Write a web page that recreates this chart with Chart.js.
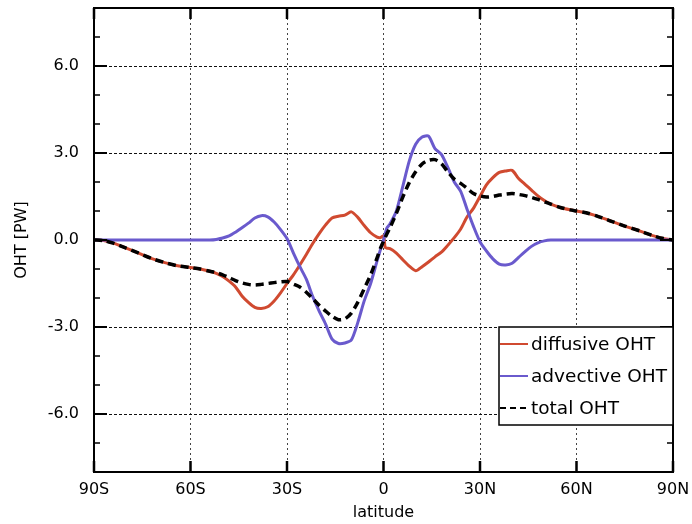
<!DOCTYPE html>
<html><head><meta charset="utf-8">
<script src="https://cdn.jsdelivr.net/npm/chart.js@4.4.1/dist/chart.umd.min.js"></script>
<style>html,body{margin:0;padding:0;background:#fff;}canvas{display:block;}</style>
</head><body>
<canvas id="c" width="692" height="524" style="width:692px;height:524px"></canvas>
<script>
const latitudes = [-90,-87,-84,-80,-76,-72,-68,-64,-60,-57,-54,
  -52,-50,-48,-46,-44,-42,-40,-38,-36,-34,-32,-30,-28,-26,-24,-22,-20,-18,-16,-14,-12,-10,-8,-6,-4,-2,
  -1,0,0.5,1,
  2,4,6,8,10,12,14,16,18,20,22,24,26,28,30,32,34,36,38,40,42,44,46,48,50,52,
  55,58,60,63,66,70,75,80,84,87,90];
const diffusiveOHT = [0,-0.02,-0.11,-0.28,-0.46,-0.64,-0.78,-0.89,-0.95,-1.0,-1.08,
  -1.15,-1.26,-1.42,-1.62,-1.93,-2.15,-2.32,-2.36,-2.3,-2.1,-1.82,-1.5,-1.2,-0.86,-0.5,-0.12,0.22,0.52,0.76,0.82,0.86,0.97,0.78,0.5,0.25,0.1,
  0.08,0.14,-0.25,-0.28,
  -0.3,-0.45,-0.68,-0.9,-1.06,-0.92,-0.76,-0.58,-0.42,-0.18,0.08,0.38,0.8,1.1,1.5,1.9,2.15,2.33,2.38,2.4,2.12,1.92,1.72,1.52,1.36,1.24,
  1.12,1.04,1.0,0.94,0.84,0.68,0.48,0.3,0.14,0.05,0];
const advectiveOHT = [0,0,0,0,0,0,0,0,0,0,0,
  0.02,0.07,0.14,0.27,0.42,0.58,0.76,0.84,0.8,0.62,0.36,0.05,-0.45,-0.92,-1.35,-1.95,-2.45,-2.9,-3.42,-3.57,-3.55,-3.45,-2.85,-2.1,-1.5,-0.72,
  -0.35,0,0.2,0.4,
  0.55,1.0,1.85,2.72,3.3,3.55,3.58,3.15,2.95,2.5,2.0,1.68,1.05,0.46,-0.06,-0.38,-0.65,-0.83,-0.86,-0.8,-0.6,-0.4,-0.22,-0.1,-0.03,0,
  0,0,0,0,0,0,0,0,0,0,0];
const totalOHT = [0,-0.02,-0.11,-0.28,-0.46,-0.64,-0.78,-0.89,-0.95,-1.0,-1.08,
  -1.13,-1.2,-1.3,-1.4,-1.48,-1.53,-1.55,-1.53,-1.5,-1.47,-1.44,-1.43,-1.52,-1.62,-1.8,-2.02,-2.25,-2.45,-2.63,-2.75,-2.72,-2.52,-2.15,-1.68,-1.2,-0.62,
  -0.3,-0.05,0.08,0.2,
  0.42,0.92,1.48,1.98,2.35,2.62,2.75,2.77,2.63,2.35,2.1,1.95,1.78,1.6,1.52,1.48,1.5,1.55,1.58,1.6,1.57,1.53,1.47,1.4,1.32,1.24,
  1.12,1.04,1.0,0.94,0.84,0.68,0.48,0.3,0.14,0.05,0];
const seriesNames = ['diffusive OHT','advective OHT','total OHT'];
const xTickValues = [-90,-60,-30,0,30,60,90];
const xTickLabels = ['90S','60S','30S','0','30N','60N','90N'];
const yTickValues = [-6,-3,0,3,6];
const yTickLabels = ['-6.0','-3.0','0.0','3.0','6.0'];
const yMinorValues = [-7,-5,-4,-2,-1,1,2,4,5,7];

const FONT = "'DejaVu Sans', sans-serif";
const toPts = arr => latitudes.map((x, i) => ({x: x, y: arr[i]}));
const noPad = s => { s.paddingTop = 0; s.paddingBottom = 0; s.paddingLeft = 0; s.paddingRight = 0; };

const framePlugin = {
  id: 'frame',
  afterDraw(chart) {
    const {ctx, chartArea: a, scales: {x, y}} = chart;
    ctx.save();
    ctx.setLineDash([]);
    ctx.strokeStyle = '#000';
    ctx.lineWidth = 2;
    ctx.beginPath();
    yTickValues.forEach(v => {
      const p = y.getPixelForValue(v);
      ctx.moveTo(a.left, p); ctx.lineTo(a.left + 13, p);
      ctx.moveTo(a.right, p); ctx.lineTo(a.right - 13, p);
    });
    ctx.stroke();
    ctx.lineWidth = 1.5;
    ctx.beginPath();
    yMinorValues.forEach(v => {
      const p = y.getPixelForValue(v);
      ctx.moveTo(a.left, p); ctx.lineTo(a.left + 6, p);
      ctx.moveTo(a.right, p); ctx.lineTo(a.right - 6, p);
    });
    ctx.stroke();
    ctx.lineWidth = 2.5;
    ctx.beginPath();
    xTickValues.forEach(v => {
      const p = x.getPixelForValue(v);
      ctx.moveTo(p, a.bottom); ctx.lineTo(p, a.bottom - 11);
      ctx.moveTo(p, a.top); ctx.lineTo(p, a.top + 11);
    });
    ctx.stroke();
    ctx.lineWidth = 2;
    ctx.strokeRect(a.left, a.top, a.right - a.left, a.bottom - a.top);

    // legend
    const bl = a.right - 174, bt = a.top + 319, bw = 174, bh = 98;
    ctx.fillStyle = '#fff';
    ctx.fillRect(bl, bt, bw, bh);
    ctx.lineWidth = 1.5;
    ctx.strokeStyle = '#000';
    ctx.strokeRect(bl, bt, bw, bh);
    ctx.font = "18.5px " + FONT;
    ctx.textBaseline = 'middle';
    ctx.textAlign = 'left';
    chart.data.datasets.forEach((ds, i) => {
      const ry = bt + 17 + i * 32;
      ctx.beginPath();
      ctx.strokeStyle = ds.borderColor;
      ctx.lineWidth = 2;
      ctx.setLineDash(ds.borderDash ? [6, 4] : []);
      ctx.moveTo(bl + 1, ry); ctx.lineTo(bl + 29, ry);
      ctx.stroke();
      ctx.setLineDash([]);
      ctx.fillStyle = '#000';
      ctx.fillText(ds.label, bl + 32, ry + 1);
    });
    ctx.restore();
  }
};

new Chart(document.getElementById('c'), {
  type: 'line',
  data: {
    datasets: [
      {label: seriesNames[0], data: toPts(diffusiveOHT), borderColor: '#d04a30', borderWidth: 3, pointRadius: 0, tension: 0.25, fill: false, order: 2},
      {label: seriesNames[1], data: toPts(advectiveOHT), borderColor: '#6a5acd', borderWidth: 3, pointRadius: 0, tension: 0.25, fill: false, order: 1},
      {label: seriesNames[2], data: toPts(totalOHT), borderColor: '#000000', borderWidth: 3.5, borderDash: [8, 5], pointRadius: 0, tension: 0.25, fill: false, order: 0}
    ]
  },
  options: {
    responsive: false,
    animation: false,
    devicePixelRatio: 1,
    layout: {padding: {top: 8, right: 19, left: 0, bottom: 0}},
    plugins: {legend: {display: false}, tooltip: {enabled: false}},
    scales: {
      x: {
        type: 'linear', min: -90, max: 90,
        afterBuildTicks: s => { s.ticks = xTickValues.map(v => ({value: v})); },
        afterFit: s => { s.height = 52; noPad(s); },
        ticks: {
          callback: v => xTickLabels[xTickValues.indexOf(v)],
          font: {family: FONT, size: 16}, color: '#000', padding: 8, maxRotation: 0, autoSkip: false
        },
        grid: {color: '#444', lineWidth: 1, drawTicks: false, borderDash: [2, 3]},
        border: {display: false, dash: [2, 3]},
        title: {display: true, text: 'latitude', font: {family: FONT, size: 16}, color: '#000', padding: {top: 0, bottom: 2}}
      },
      y: {
        type: 'linear', min: -8, max: 8,
        afterBuildTicks: s => { s.ticks = yTickValues.map(v => ({value: v})); },
        afterFit: s => { s.width = 94; noPad(s); },
        ticks: {
          callback: v => yTickLabels[yTickValues.indexOf(v)],
          font: {family: FONT, size: 16}, color: '#000', padding: 15
        },
        grid: {color: '#111', lineWidth: 1, drawTicks: false, borderDash: [3, 2]},
        border: {display: false, dash: [3, 2]},
        title: {display: true, text: 'OHT [PW]', font: {family: FONT, size: 16}, color: '#000', padding: {top: 12, bottom: 0}}
      }
    }
  },
  plugins: [framePlugin]
});
</script>
</body></html>
